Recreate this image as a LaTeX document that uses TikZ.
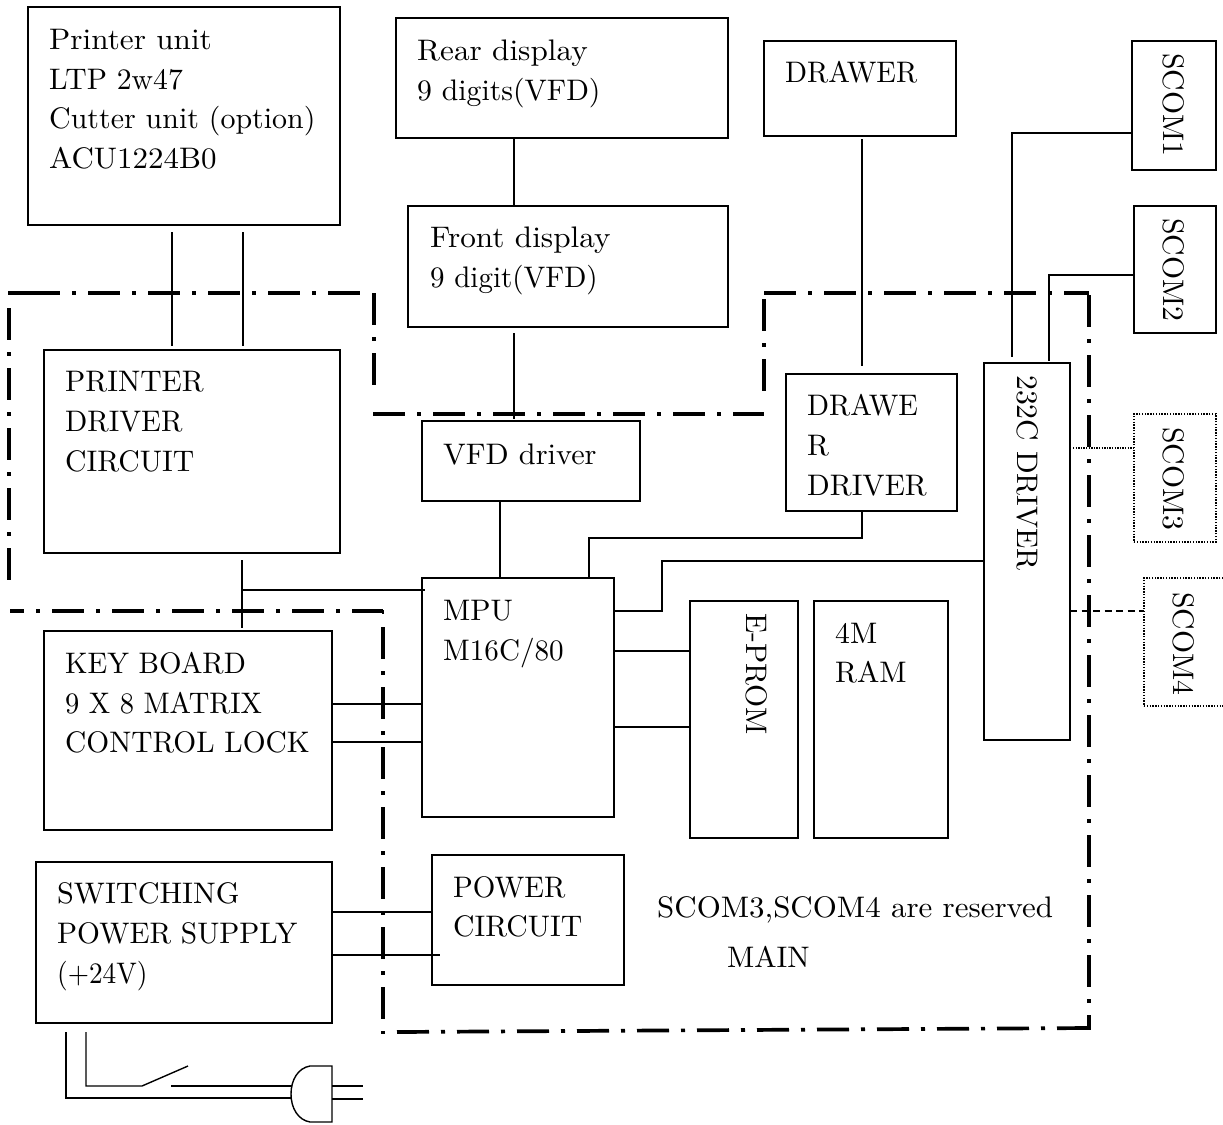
\documentclass[tikz,border=0pt]{standalone}
\usepackage{fontspec}
\setmainfont{lmroman10-regular.otf}
\usetikzlibrary{calc}
\tikzset{
  x=1pt,y=-1pt,
  box/.style={draw,line width=1.6pt,inner sep=0,outer sep=0,anchor=north west},
  dotbox/.style={box,line width=1.4pt,dash pattern=on 1.4pt off 1.4pt},
  txt/.style={anchor=base west,inner sep=0,font=\fontsize{29.7pt}{40pt}\selectfont},
  vtxt/.style={anchor=base west,inner sep=0,rotate=-90,font=\fontsize{29.7pt}{40pt}\selectfont},
  wire/.style={line width=1.4pt},
  dotwire/.style={line width=1.2pt,dash pattern=on 1.3pt off 1.3pt},
  dashwire/.style={line width=1.3pt,dash pattern=on 7pt off 4.5pt},
  bound/.style={line width=3.7pt,dash pattern=on 32pt off 12pt on 4pt off 12pt},
  boundsolid/.style={line width=3.7pt},
}
\newcommand{\bx}[6][box]{\node[#1,minimum width=#5pt-#3pt,minimum height=#6pt-#4pt] (#2) at (#3,#4) {};}
\newcommand{\sx}[2]{\scalebox{#1}[1]{#2}}
\begin{document}
\begin{tikzpicture}
\useasboundingbox (0,0) rectangle (1223,1124);
\bx{pu}{28}{7}{340}{225}
\bx{rear}{396}{18}{728}{138}
\bx{front}{408}{206}{728}{327}
\bx{drw}{764}{41}{956}{136}
\bx{sc1}{1132}{41}{1216}{170}
\bx{sc2}{1134}{206}{1216}{333}
\bx[dotbox]{sc3}{1134}{414}{1216}{542}
\bx[dotbox]{sc4}{1144}{578}{1226}{706}
\bx{rs}{984}{363}{1070}{740}
\bx{pd}{44}{350}{340}{553}
\bx{vfd}{422}{421}{640}{501}
\bx{dd}{786}{374}{957}{511}
\bx{mpu}{422}{578}{614}{817}
\bx{ep}{690}{601}{798}{838}
\bx{ram}{814}{601}{948}{838}
\bx{kb}{44}{631}{332}{830}
\bx{psu}{36}{862}{332}{1023}
\bx{pc}{432}{855}{624}{985}

\node[txt] (t1) at (49,49) {\sx{1.05}{Printer unit}};
\node[txt] (t2) at (49,89) {LTP 2w47};
\node[txt] (t3) at (49,128) {\sx{1.008}{Cutter unit (option)}};
\node[txt] (t4) at (49,168) {\sx{1.043}{ACU1224B0}};
\node[txt] (t5) at (417,60) {\sx{1.05}{Rear display}};
\node[txt] (t6) at (417,100) {9 digits(VFD)};
\node[txt] (t7) at (430,247) {\sx{1.052}{Front display}};
\node[txt] (t8) at (430,287) {\sx{0.976}{9 digit(VFD)}};
\node[txt] (t9) at (785,82) {\sx{0.97}{DRAWER}};
\node[txt] (t10) at (65,391) {PRINTER};
\node[txt] (t11) at (65,431) {\sx{0.98}{DRIVER}};
\node[txt] (t12) at (65,471) {CIRCUIT};
\node[txt] (t13) at (443,464) {\sx{1.02}{VFD driver}};
\node[txt] (t14) at (807,415) {\sx{0.97}{DRAWE}};
\node[txt] (t15) at (807,455) {R};
\node[txt] (t16) at (807,495) {DRIVER};
\node[txt] (t17) at (443,620) {MPU};
\node[txt] (t18) at (443,660) {\sx{0.98}{M16C/80}};
\node[txt] (t19) at (65,673) {\sx{0.973}{KEY BOARD}};
\node[txt] (t20) at (65,713) {\sx{0.96}{9 X 8 MATRIX}};
\node[txt] (t21) at (65,752) {\sx{0.99}{CONTROL LOCK}};
\node[txt] (t22) at (57,903) {\sx{1.017}{SWITCHING}};
\node[txt] (t23) at (57,943) {\sx{0.99}{POWER SUPPLY}};
\node[txt] (t24) at (57,983) {\sx{0.92}{(+24V)}};
\node[txt] (t25) at (453,897) {\sx{0.975}{POWER}};
\node[txt] (t26) at (453,936) {CIRCUIT};
\node[txt] (t27) at (835,643) {4M};
\node[txt] (t28) at (835,682) {RAM};
\node[txt] (t29) at (657,917) {\sx{1.042}{SCOM3,SCOM4 are reserved}};
\node[txt] (t30) at (727,967) {MAIN};
\node[vtxt] (v1) at (1163,53) {SCOM1};
\node[vtxt] (v2) at (1163,218) {SCOM2};
\node[vtxt] (v3) at (1163,427) {SCOM3};
\node[vtxt] (v4) at (1173,592) {SCOM4};
\node[vtxt] (v5) at (1017,375) {232C DRIVER};
\node[vtxt] (v6) at (746,613) {E-PROM};

% boundaries
\draw[boundsolid] (8,293) -- (28,293);
\draw[bound] (28,293) -- (360,293);
\draw[bound] (374,293) -- (374,385);
\draw[bound] (9,308) -- (9,580);
\draw[bound,dash phase=18pt] (10,611) -- (383,611);
\draw[boundsolid,line width=2pt] (383,610) -- (383,614);
\draw[bound] (383,627) -- (383,1034);
\draw[bound] (397,1032) -- (1090,1028);
\draw[bound] (764,293) -- (1089,293);
\draw[bound] (1089,295) -- (1089,1030);
\draw[bound] (764,299) -- (764,391);
\draw[bound] (373,414) -- (764,414);

% wires
\draw[wire] ($(pu.south west)+(144,7)$) -- ($(pd.north west)+(128,-4)$);
\draw[wire] ($(pu.south west)+(215,7)$) -- ($(pd.north west)+(199,-4)$);
\draw[wire] ($(rear.south west)+(118,0)$) -- ($(front.north west)+(106,0)$);
\draw[wire] ($(front.south west)+(106,6)$) -- ($(vfd.north west)+(92,-2)$);
\draw[wire] ($(drw.south west)+(98,3)$) -- ($(dd.north west)+(76,-8)$);
\draw[wire] ($(sc1.north west)+(0,92)$) -| ($(rs.north west)+(28,-6)$);
\draw[wire] ($(sc2.north west)+(0,69)$) -| ($(rs.north west)+(65,-2)$);
\draw[dotwire] ($(rs.north east)+(3,85)$) -- ($(sc3.north west)+(0,34)$);
\draw[dashwire] ($(rs.north east)+(0,248)$) -- ($(sc4.north west)+(0,33)$);
\draw[wire] ($(vfd.south west)+(78,0)$) -- ($(mpu.north west)+(78,0)$);
\draw[wire] ($(dd.south west)+(76,0)$) -- ($(dd.south west)+(76,27)$) -| ($(mpu.north west)+(167,0)$);
\draw[wire] ($(rs.north west)+(0,198)$) -| ($(mpu.north east)+(48,33)$) -- ($(mpu.north east)+(0,33)$);
\draw[wire] ($(mpu.north east)+(0,73)$) -- ($(ep.north west)+(0,50)$);
\draw[wire] ($(mpu.north east)+(0,149)$) -- ($(ep.north west)+(0,126)$);
\draw[wire] ($(kb.north east)+(0,73)$) -- ($(mpu.north west)+(0,126)$);
\draw[wire] ($(kb.north east)+(0,111)$) -- ($(mpu.north west)+(0,164)$);
\draw[wire] ($(pd.south west)+(198,7)$) -- ($(kb.north west)+(198,-3)$);
\draw[wire] ($(pd.south west)+(199,37)$) -- ($(mpu.north west)+(3,12)$);
\draw[wire] ($(psu.north east)+(0,50)$) -- ($(pc.north west)+(0,57)$);
\draw[wire] ($(psu.north east)+(0,93)$) -- ($(pc.north west)+(8,100)$);

% mains lead, switch and plug
\coordinate (plugA) at (292,1086);
\coordinate (plugB) at (292,1098);
\coordinate (swA) at (142,1086);
\coordinate (swB) at (171,1086);
\draw[wire] ($(psu.south west)+(30,9)$) |- (plugB);
\draw[wire] ($(psu.south west)+(50,9)$) |- (swA) -- (188,1066);
\draw[wire] (swB) -- (plugA);
\draw[wire] (332,1066) -- (310,1066) .. controls (298,1068) and (291,1080) .. (291,1094)
  .. controls (291,1108) and (298,1120) .. (310,1122) -- (332,1122) -- cycle;
\draw[wire] (332,1086) -- (363,1086);
\draw[wire] (332,1099) -- (363,1099);
\end{tikzpicture}
\end{document}
